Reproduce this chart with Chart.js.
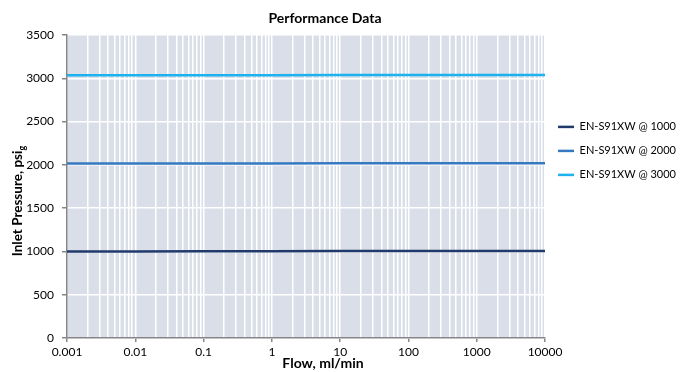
<!DOCTYPE html>
<html>
<head>
<meta charset="utf-8">
<script src="https://cdn.jsdelivr.net/npm/chart.js@4.4.1/dist/chart.umd.min.js"></script>
<style>
  html, body { margin: 0; padding: 0; background: #fff; }
  #wrap { width: 680px; height: 372px; }
</style>
</head>
<body>
<div id="wrap"><canvas id="grafico"></canvas></div>
<script>
// datos
const flujo = [0.001, 0.01, 0.1, 1, 10, 100, 1000, 10000];
const presion1000 = [1000, 1000, 1001, 1002, 1005, 1006, 1006, 1006];
const presion2000 = [2015, 2015, 2016, 2017, 2019, 2020, 2020, 2020];
const presion3000 = [3035, 3035, 3035, 3036, 3037, 3038, 3038, 3038];
const nombres = ['EN-S91XW @ 1000', 'EN-S91XW @ 2000', 'EN-S91XW @ 3000'];
const colores = ['#1F3A6B', '#3579C0', '#1DB1EE'];
const decadas = [-3, -2, -1, 0, 1, 2, 3, 4];
const yMax = 3500;
const yPaso = 500;

const fam = 'Lato, Carlito, Calibri, sans-serif';
Chart.defaults.font.family = fam;
Chart.defaults.color = '#000';

function puntos(valores) {
  return flujo.map((x, i) => ({x: x, y: valores[i]}));
}

function serie(nombre, valores, color) {
  return {
    label: nombre,
    data: puntos(valores),
    borderColor: color,
    backgroundColor: color,
    borderWidth: 2.5,
    pointRadius: 0,
    tension: 0
  };
}

// ticks 1..9 por decada (lineas menores de la escala log)
function ticksLog() {
  const t = [];
  decadas.forEach(e => {
    const tope = e === decadas[decadas.length - 1] ? 1 : 9;
    for (let k = 1; k <= tope; k++) {
      t.push({value: Number((k * Math.pow(10, e)).toPrecision(6)), major: k === 1});
    }
  });
  return t;
}

const fondo = {
  id: 'fondo',
  beforeDraw(chart) {
    const a = chart.chartArea;
    const ctx = chart.ctx;
    ctx.save();
    ctx.fillStyle = '#D9DEE8';
    ctx.fillRect(a.left, a.top, a.right - a.left, a.bottom - a.top);
    ctx.restore();
  }
};

// titulos (centrados como en excel, no sobre el area del grafico)
const textos = {
  id: 'textos',
  afterDraw(chart) {
    const ctx = chart.ctx;
    ctx.save();
    ctx.fillStyle = '#000';
    ctx.textBaseline = 'middle';
    ctx.textAlign = 'center';
    ctx.font = 'bold 14px ' + fam;
    ctx.fillText('Performance Data', 325, 18);
    ctx.font = 'bold 14px ' + fam;
    ctx.fillText('Flow, ml/min', 323, 363);

    // titulo eje y con subindice g
    const principal = 'Inlet Pressure, psi';
    ctx.translate(18, 201);
    ctx.rotate(-Math.PI / 2);
    ctx.font = 'bold 13.5px ' + fam;
    const w1 = ctx.measureText(principal).width;
    ctx.font = 'bold 9px ' + fam;
    const w2 = ctx.measureText('g').width;
    const x0 = -(w1 + w2) / 2;
    ctx.textAlign = 'left';
    ctx.font = 'bold 13.5px ' + fam;
    ctx.fillText(principal, x0, 0);
    ctx.font = 'bold 9px ' + fam;
    ctx.fillText('g', x0 + w1, 4);
    ctx.restore();
  }
};

const config = {
  type: 'line',
  data: {
    datasets: [
      serie(nombres[0], presion1000, colores[0]),
      serie(nombres[1], presion2000, colores[1]),
      serie(nombres[2], presion3000, colores[2])
    ]
  },
  options: {
    responsive: true,
    maintainAspectRatio: false,
    animation: false,
    layout: { padding: { top: 35, right: -6, left: 0, bottom: 0 } },
    plugins: {
      title: { display: false },
      tooltip: { enabled: false },
      legend: {
        position: 'right',
        align: 'start',
        title: { display: true, text: '', font: { size: 12 }, padding: { top: 59, bottom: 0 } },
        labels: {
          usePointStyle: true,
          pointStyle: 'line',
          pointStyleWidth: 16,
          padding: 13,
          color: '#000',
          font: { size: 11 }
        }
      }
    },
    scales: {
      x: {
        type: 'logarithmic',
        min: 0.001,
        max: 10000,
        afterBuildTicks: scale => { scale.ticks = ticksLog(); },
        afterFit: scale => { scale.height = 34; },
        grid: {
          color: '#FFFFFF',
          lineWidth: 1.5,
          tickLength: 4,
          tickColor: ctx => (ctx.tick && ctx.tick.major) ? '#868686' : 'rgba(0,0,0,0)'
        },
        border: { color: '#868686', width: 1.5 },
        ticks: {
          autoSkip: false,
          maxRotation: 0,
          padding: 3,
          font: { size: 12 },
          color: '#000',
          callback: function(value) {
            const e = Math.log10(value);
            return Math.abs(e - Math.round(e)) < 1e-9 ? String(value) : '';
          }
        },
        title: { display: false }
      },
      y: {
        min: 0,
        max: yMax,
        afterFit: scale => { scale.width = 67; },
        grid: {
          color: '#FFFFFF',
          lineWidth: 1.5,
          tickLength: 5,
          tickColor: '#868686'
        },
        border: { color: '#868686', width: 1.5 },
        ticks: {
          stepSize: yPaso,
          padding: 8,
          font: { size: 12 },
          color: '#000',
          callback: value => String(value)
        }
      }
    }
  },
  plugins: [fondo, textos]
};

const grafico = new Chart(document.getElementById('grafico'), config);
</script>
</body>
</html>
